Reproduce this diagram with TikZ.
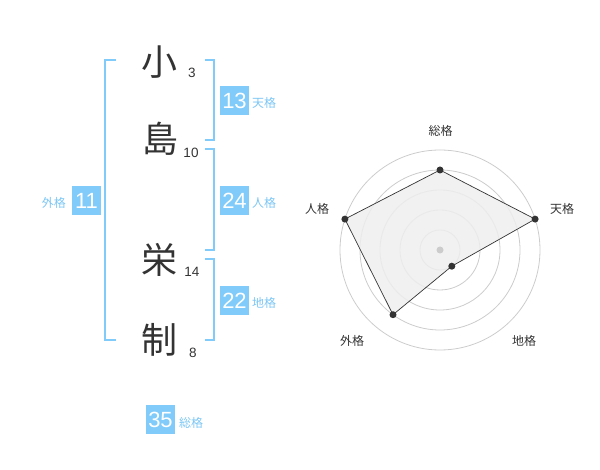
\documentclass[tikz,border=0pt]{standalone}
\usepackage{fontspec}
\setmainfont{Liberation Sans}
\newfontfamily\jp{Noto Sans CJK JP}
\definecolor{bl}{HTML}{80CBFA}
\definecolor{bltxt}{HTML}{7CC6F5}
\definecolor{dk}{HTML}{333333}
\definecolor{ring}{HTML}{CCCCCC}
\definecolor{polyfill}{HTML}{EEEEEE}
\tikzset{
  kanji/.style={font=\jp\fontsize{36}{36}\selectfont, text=dk, inner sep=0pt},
  strokes/.style={font=\fontsize{13.5}{13.5}\selectfont, text=dk, inner sep=0pt},
  valbox/.style={fill=bl, text=white, minimum width=29pt, minimum height=29pt, inner sep=0pt, font=\fontsize{22}{22}\selectfont},
  kaku/.style={font=\jp\fontsize{12}{12}\selectfont, text=bltxt, inner sep=0pt},
  brk/.style={draw=bl, line width=1.6pt},
  rad/.style={font=\jp\fontsize{12}{12}\selectfont, text=dk, inner sep=0pt},
  ringc/.style={draw=ring, line width=0.8pt},
  dot/.style={circle, fill=dk, inner sep=0pt, minimum size=7pt},
}
\begin{document}
\begin{tikzpicture}[x=1pt,y=-1pt]
\useasboundingbox (0,0) rectangle (600,470);
% characters
\node[kanji] (c1) at (159,62) {小};
\node[kanji] (c2) at (160,139) {島};
\node[kanji] (c3) at (159,260) {栄};
\node[kanji] (c4) at (159,340) {制};
\node[strokes] (s1) at (192,73) {3};
\node[strokes] (s2) at (191,153) {10};
\node[strokes] (s3) at (192,272) {14};
\node[strokes] (s4) at (193,353) {8};
% brackets
\draw[brk] (116,60) -- (105,60) -- (105,340) -- (116,340);
\draw[brk] (205,60) -- (214,60) -- (214,140) -- (205,140);
\draw[brk] (205,149) -- (214,149) -- (214,250) -- (205,250);
\draw[brk] (205,259) -- (214,259) -- (214,340) -- (205,340);
% value boxes
\node[valbox] (b1) at (234.5,100.5) {13};
\node[kaku, anchor=west] (k1) at (252,102.5) {天格};
\node[valbox] (b2) at (234.5,200.5) {24};
\node[kaku, anchor=west] (k2) at (252,202.5) {人格};
\node[valbox] (b3) at (234.5,300.5) {22};
\node[kaku, anchor=west] (k3) at (252,302.5) {地格};
\node[valbox] (b4) at (86.5,200.5) {11};
\node[kaku, anchor=east] (k4) at (66,202.5) {外格};
\node[valbox] (b5) at (160.5,419.5) {35};
\node[kaku, anchor=west] (k5) at (179,422.5) {総格};
% radar
\coordinate (o) at (440,250);
\foreach \r in {20,40,60,80,100} \draw[ringc] (o) circle[radius=\r];
\coordinate (pS) at (440,170);
\coordinate (pT) at (535.1,219.1);
\coordinate (pC) at (451.8,266.2);
\coordinate (pG) at (393.0,314.7);
\coordinate (pJ) at (344.9,219.1);
\filldraw[fill=polyfill, fill opacity=0.85, draw=dk, line width=0.7pt] (pS) -- (pT) -- (pC) -- (pG) -- (pJ) -- cycle;
\node[circle, fill=ring, inner sep=0pt, minimum size=7pt] (oc) at (o) {};
\foreach \p in {pS,pT,pC,pG,pJ} \node[dot] at (\p) {};
\node[rad] (lS) at (440.5,130.5) {総格};
\node[rad] (lT) at (562,208.5) {天格};
\node[rad] (lC) at (524,341) {地格};
\node[rad] (lG) at (352,341) {外格};
\node[rad] (lJ) at (317,208.5) {人格};
\end{tikzpicture}
\end{document}
